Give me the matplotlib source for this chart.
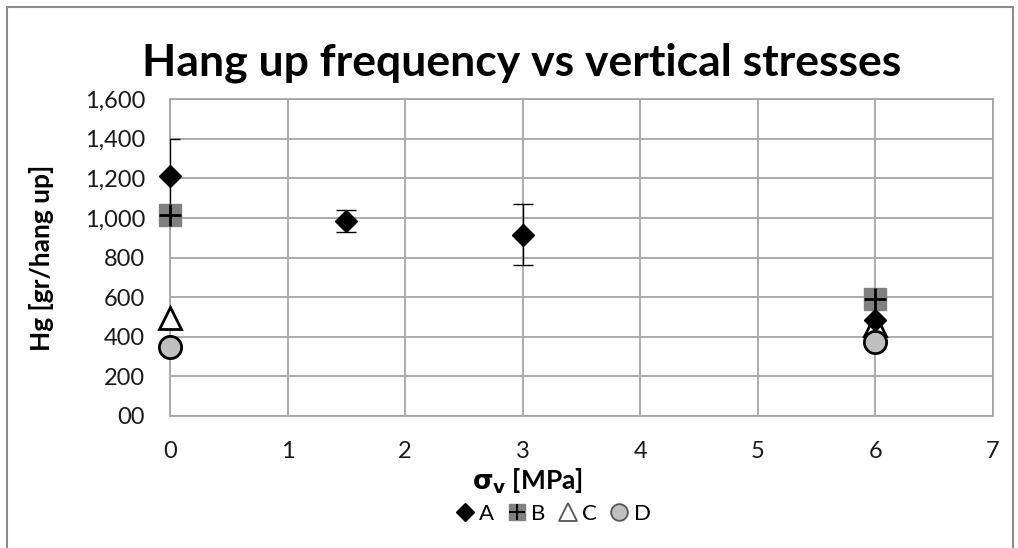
import matplotlib
matplotlib.use("Agg")
import matplotlib.pyplot as plt
from matplotlib.legend_handler import HandlerTuple
from matplotlib.patches import Rectangle
from matplotlib.ticker import FuncFormatter

plt.rcParams['font.family'] = ['Lato', 'DejaVu Sans']

# Data
a_x = [0, 1.5, 3, 6]
a_y = [1210, 985, 915, 485]
a_err = [190, 55, 153, 0]
b_x = [0, 6]
b_y = [1015, 590]
c_x = [0, 6]
c_y = [495, 460]
d_x = [0, 6]
d_y = [350, 373]
x_ticks = [0, 1, 2, 3, 4, 5, 6, 7]
y_ticks = [0, 200, 400, 600, 800, 1000, 1200, 1400, 1600]

fig = plt.figure(figsize=(10.18, 5.48), dpi=100)
fig.patches.append(Rectangle((0.007, -0.1), 0.988, 1.087, transform=fig.transFigure,
                             fill=False, edgecolor='#8c8c8c', linewidth=1.5))
ax = fig.add_axes([0.167, 0.2409, 0.8084, 0.5784])

ax.errorbar(a_x, a_y, yerr=a_err, fmt='none', ecolor='black', elinewidth=1,
            capsize=7, capthick=1, zorder=3, clip_on=True)
hA, = ax.plot(a_x, a_y, 'D', color='black', markersize=11, linestyle='none', zorder=5, clip_on=False)
hB1, = ax.plot(b_x, b_y, 's', color='#808080', markersize=16, linestyle='none', zorder=4, clip_on=False)
hB2, = ax.plot(b_x, b_y, '+', color='black', markersize=16, markeredgewidth=2, linestyle='none', zorder=4.5, clip_on=False)
hC, = ax.plot(c_x, c_y, '^', markerfacecolor='white', markeredgecolor='black', markeredgewidth=2,
              markersize=16, linestyle='none', zorder=4, clip_on=False)
hD, = ax.plot(d_x, d_y, 'o', markerfacecolor='#c0c0c0', markeredgecolor='black', markeredgewidth=2,
              markersize=16, linestyle='none', zorder=4, clip_on=False)

ax.set_xlim(0, 7)
ax.set_ylim(0, 1600)
ax.set_xticks(x_ticks)
ax.set_yticks(y_ticks)
ax.yaxis.set_major_formatter(FuncFormatter(lambda v, p: '00' if v == 0 else f'{int(v):,}'))
ax.grid(True, color='#a6a6a6', linewidth=1.3)
ax.set_axisbelow(True)
for s in ax.spines.values():
    s.set_color('#a6a6a6')
    s.set_linewidth(1.3)
ax.tick_params(length=0, labelsize=17, colors='#1a1a1a')
ax.tick_params(axis='y', pad=18)
ax.tick_params(axis='x', pad=18)

fig.text(0.512, 0.886, 'Hang up frequency vs vertical stresses', ha='center', va='center',
         fontsize=32, fontweight='bold')
ax.set_ylabel('Hg [gr/hang up]', fontsize=19, fontweight='bold', labelpad=22)
fig.text(0.518, 0.122, r'$\mathbf{\sigma_v}$ [MPa]', ha='center', va='center',
         fontsize=19, fontweight='bold')

hBl1 = plt.Line2D([], [], marker='s', color='#808080', markersize=12, linestyle='none')
hBl2 = plt.Line2D([], [], marker='+', color='black', markersize=12, markeredgewidth=1.5, linestyle='none')
hAl = plt.Line2D([], [], marker='D', color='black', markersize=9, linestyle='none')
hCl = plt.Line2D([], [], marker='^', markerfacecolor='white', markeredgecolor='#555555', markeredgewidth=1.3, markersize=13, linestyle='none')
hDl = plt.Line2D([], [], marker='o', markerfacecolor='#c0c0c0', markeredgecolor='#555555', markeredgewidth=1.3, markersize=12, linestyle='none')
fig.legend([hAl, (hBl1, hBl2), hCl, hDl], ['A', 'B', 'C', 'D'],
           handler_map={tuple: HandlerTuple(ndivide=1, pad=0)},
           loc='center', bbox_to_anchor=(0.543, 0.062), ncol=4, frameon=False,
           fontsize=16, handlelength=0.9, handletextpad=0.2, columnspacing=0.55)

fig.savefig('out.png', dpi=100)
